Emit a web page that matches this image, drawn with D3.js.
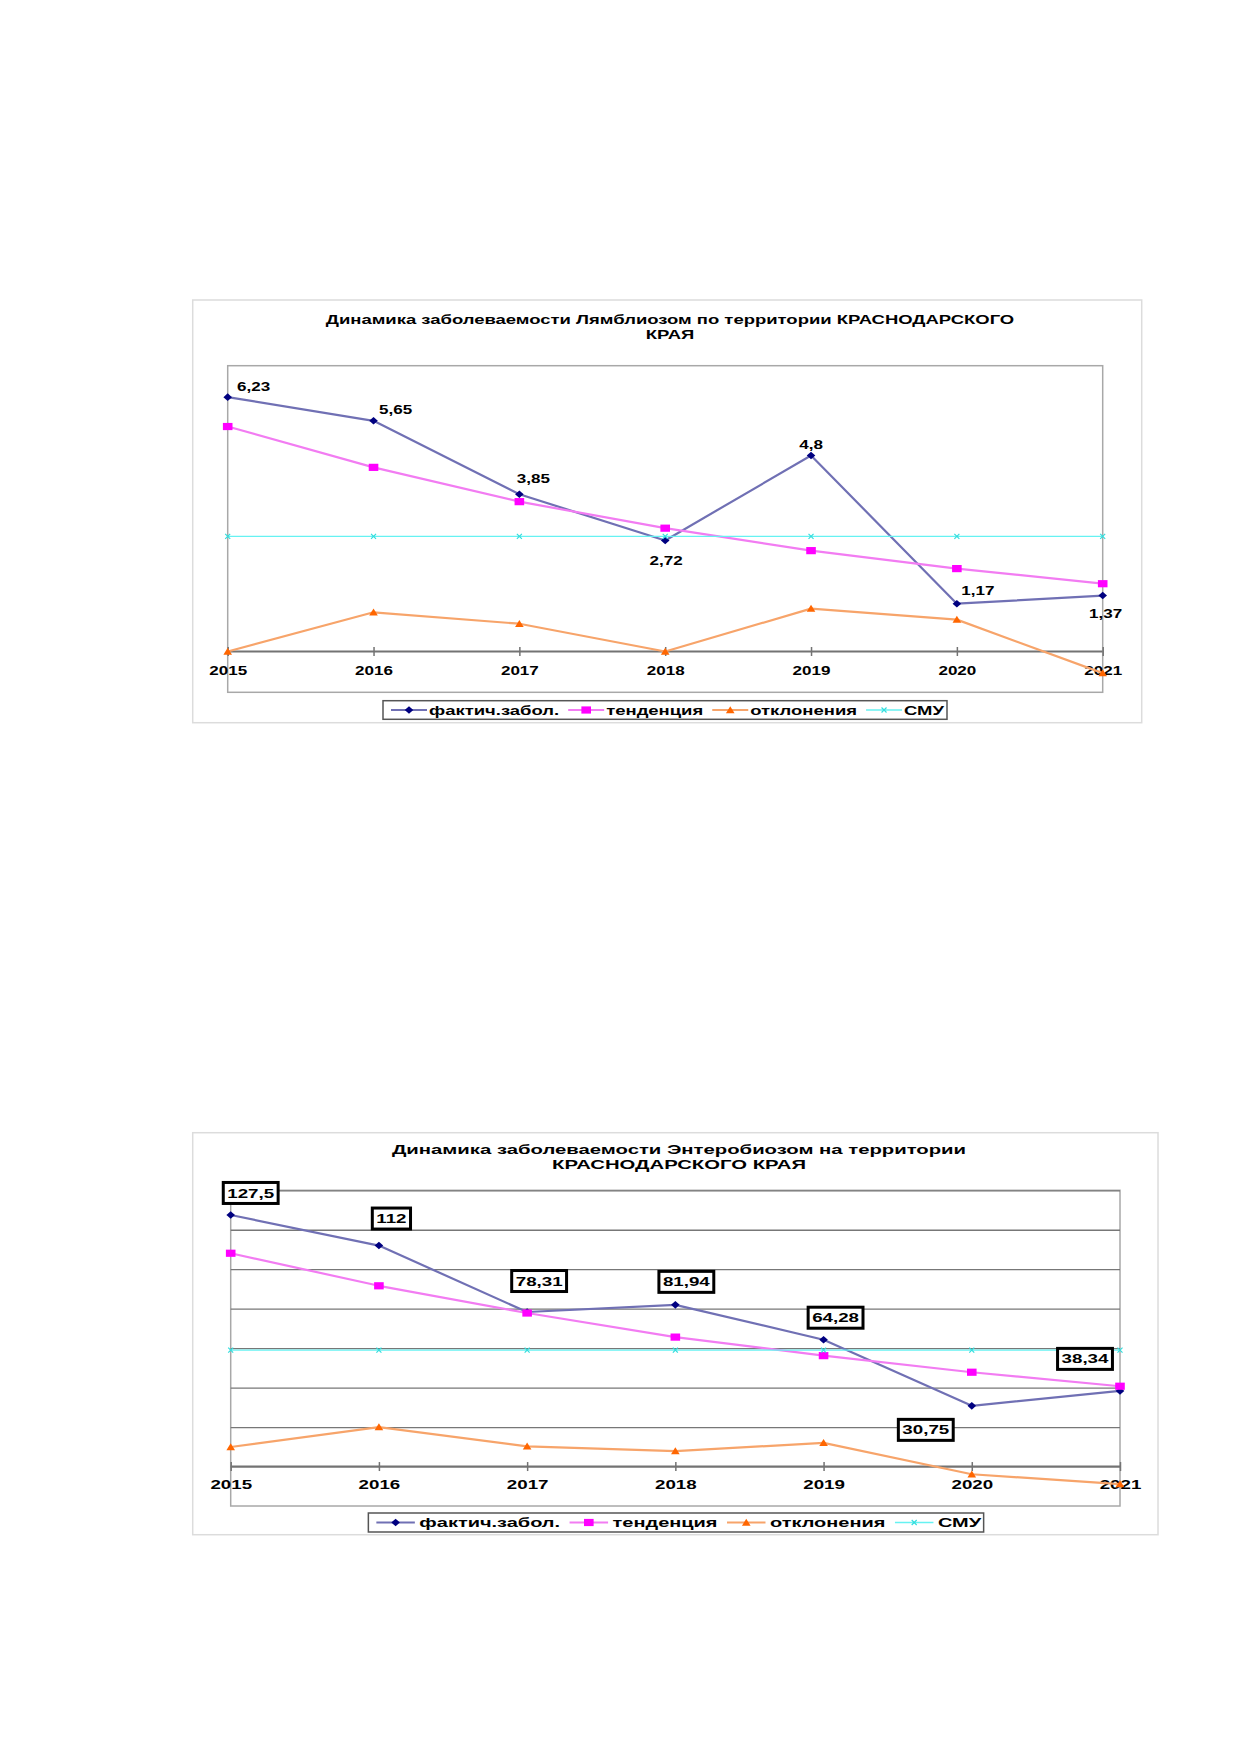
<!DOCTYPE html>
<html>
<head>
<meta charset="utf-8">
<script src="https://cdn.jsdelivr.net/npm/d3@7"></script>
<style>
html, body { margin: 0; padding: 0; background: #fff; }
svg text { font-family: "Liberation Sans", Arial, sans-serif; font-weight: bold; fill: #000; }
</style>
</head>
<body>
<svg id="page" width="1239" height="1752"></svg>
<script>
// Category axis
const years = ['2015', '2016', '2017', '2018', '2019', '2020', '2021'];
const legendNames = ['фактич.забол.', 'тенденция', 'отклонения', 'СМУ'];

// Лямблиоз
const lambActual = [6.23, 5.65, 3.85, 2.72, 4.8, 1.17, 1.37];
const lambTrend = [5.51, 4.51, 3.67, 3.02, 2.47, 2.03, 1.66];
const lambDeviation = [0, 0.96, 0.68, 0, 1.05, 0.78, -0.53];
const lambSmu = [2.82, 2.82, 2.82, 2.82, 2.82, 2.82, 2.82];
const lambGrid = [];

// Энтеробиоз
const enterActual = [127.5, 112, 78.31, 81.94, 64.28, 30.75, 38.34];
const enterTrend = [108.1, 91.6, 77.8, 65.6, 56.2, 47.8, 40.7];
const enterDeviation = [9.9, 20.0, 10.2, 7.8, 12.0, -3.9, -8.9];
const enterSmu = [59, 59, 59, 59, 59, 59, 59];
const enterGrid = [20, 40, 60, 80, 100, 120, 140];

// Series look, in Excel order
const seriesStyle = [
    { line: '#7070b4', fill: '#000080', shape: 'diamond', width: 2.2 },
    { line: '#f27cf2', fill: '#ff00ff', shape: 'square', width: 2.2 },
    { line: '#f7a46a', fill: '#ff6600', shape: 'triangle', width: 2.2 },
    { line: '#66f2f2', fill: '#33dddd', shape: 'cross', width: 1.4 }
];

const shapes = {
    diamond: 'M0,-3.8L4.3,0L0,3.8L-4.3,0Z',
    square: 'M-4.8,-3.6H4.8V3.6H-4.8Z',
    triangle: 'M0,-3.8L4.3,3.2L-4.3,3.2Z',
    cross: 'M-2.5,-2.5L2.5,2.5M-2.5,2.5L2.5,-2.5'
};

const commaFormat = d => String(d).replace('.', ',');

const page = d3.select('#page');

// The original bitmap is stretched sideways; widen text the same way
const stretch = (sel, k) => sel.each(function () {
    const w = this.getComputedTextLength();
    d3.select(this).attr('textLength', w * k).attr('lengthAdjust', 'spacingAndGlyphs');
});

const drawChart = (c) => {
    const g = page.append('g');

    // Chart area frame
    g.append('rect')
        .attr('x', c.frame.x).attr('y', c.frame.y)
        .attr('width', c.frame.w).attr('height', c.frame.h)
        .attr('fill', '#fff').attr('stroke', '#dcdcdc').attr('stroke-width', 1.5);

    const x = d3.scalePoint().domain(years).range([c.plot.left, c.plot.right]);
    const y = d3.scaleLinear().domain(c.yDomain).range([c.plot.bottom, c.plot.top]);

    // Plot area border
    g.append('rect')
        .attr('x', c.plot.left).attr('y', c.plot.top)
        .attr('width', c.plot.right - c.plot.left).attr('height', c.plot.bottom - c.plot.top)
        .attr('fill', 'none').attr('stroke', '#a8a8a8').attr('stroke-width', 1.5);

    // Gridlines
    const grid = g.append('g')
        .attr('transform', `translate(${c.plot.left},0)`)
        .call(d3.axisLeft(y).tickValues(c.grid).tickSize(-(c.plot.right - c.plot.left)).tickFormat(''));
    grid.select('.domain').remove();
    grid.selectAll('line').attr('stroke', '#777').attr('stroke-width', 1.3);

    // Category axis at zero, ticks crossing the line
    g.append('line')
        .attr('x1', c.plot.left).attr('x2', c.plot.right)
        .attr('y1', y(0)).attr('y2', y(0))
        .attr('stroke', '#737373').attr('stroke-width', 2.2);
    const xAxis = g.append('g')
        .attr('transform', `translate(0,${y(0) - 4.5})`)
        .call(d3.axisBottom(x).tickSize(9).tickPadding(0));
    xAxis.select('.domain').remove();
    xAxis.selectAll('line').attr('stroke', '#737373').attr('stroke-width', 1.5);
    xAxis.selectAll('text')
        .attr('y', c.tickBaseline - y(0) + 4.5).attr('dy', null)
        .attr('font-size', 13).attr('fill', '#000');
    stretch(xAxis.selectAll('text'), c.k);

    // Title
    g.selectAll('text.title')
        .data(c.title)
        .join('text')
        .attr('class', 'title')
        .attr('x', c.titleX)
        .attr('y', (d, i) => c.titleBaselines[i])
        .attr('text-anchor', 'middle')
        .attr('font-size', 13)
        .text(d => d)
        .call(stretch, c.titleK);

    // Series
    const line = d3.line().x((d, i) => x(years[i])).y(d => y(d));
    c.series.forEach((values, s) => {
        const st = seriesStyle[s];
        const sg = g.append('g');
        sg.append('path')
            .datum(values)
            .attr('d', line)
            .attr('fill', 'none')
            .attr('stroke', st.line)
            .attr('stroke-width', st.width)
            .attr('stroke-linejoin', 'round');
        sg.selectAll('path.mark')
            .data(values)
            .join('path')
            .attr('class', 'mark')
            .attr('transform', (d, i) => `translate(${x(years[i])},${y(d)})`)
            .attr('d', shapes[st.shape])
            .attr('fill', st.shape === 'cross' ? 'none' : st.fill)
            .attr('stroke', st.shape === 'cross' ? st.fill : 'none')
            .attr('stroke-width', 1.2);
    });

    // Value labels of the first series
    const labels = g.selectAll('g.label')
        .data(c.series[0])
        .join('g')
        .attr('class', 'label')
        .attr('transform', (d, i) =>
            `translate(${x(years[i]) + c.nudge[i][0]},${y(d) + c.nudge[i][1]})`);
    const labelText = labels.append('text')
        .attr('text-anchor', 'middle')
        .attr('y', 4.6)
        .attr('font-size', 13)
        .text(commaFormat)
        .call(stretch, c.k);
    if (c.boxed) {
        labelText.each(function () {
            const w = +d3.select(this).attr('textLength');
            d3.select(this.parentNode).insert('rect', 'text')
                .attr('x', -w / 2 - 4).attr('y', -10.5)
                .attr('width', w + 8).attr('height', 21)
                .attr('fill', '#fff').attr('stroke', '#000').attr('stroke-width', 3);
        });
    }

    // Legend
    const lg = g.append('g');
    const items = lg.selectAll('g.item')
        .data(legendNames)
        .join('g')
        .attr('class', 'item');
    items.append('text')
        .attr('font-size', 13)
        .attr('y', 4.5)
        .text(d => d)
        .call(stretch, c.legend.k);
    let cursor = c.legend.padLeft;
    items.each(function (d, i) {
        const st = seriesStyle[i];
        const it = d3.select(this);
        it.insert('line', 'text')
            .attr('x1', cursor).attr('x2', cursor + c.legend.lineLen)
            .attr('y1', 0).attr('y2', 0)
            .attr('stroke', st.line).attr('stroke-width', st.width);
        it.insert('path', 'text')
            .attr('transform', `translate(${cursor + c.legend.lineLen / 2},0)`)
            .attr('d', shapes[st.shape])
            .attr('fill', st.shape === 'cross' ? 'none' : st.fill)
            .attr('stroke', st.shape === 'cross' ? st.fill : 'none')
            .attr('stroke-width', 1.2);
        cursor += c.legend.lineLen + c.legend.gap;
        const txt = it.select('text').attr('x', cursor);
        cursor += +txt.attr('textLength') + c.legend.itemGap;
    });
    const legendW = cursor - c.legend.itemGap + c.legend.padRight;
    lg.insert('rect', 'g')
        .attr('x', 0).attr('y', -c.legend.h / 2)
        .attr('width', legendW).attr('height', c.legend.h)
        .attr('fill', '#fff').attr('stroke', '#555').attr('stroke-width', 1.5);
    lg.attr('transform', `translate(${c.legend.cx - legendW / 2},${c.legend.cy})`);
};

drawChart({
    frame: { x: 192.7, y: 300, w: 949, h: 422.7 },
    plot: { left: 227.7, right: 1102.7, top: 365.7, bottom: 692.3 },
    yDomain: [-1, 7],
    grid: lambGrid,
    title: ['Динамика заболеваемости Лямблиозом по территории КРАСНОДАРСКОГО', 'КРАЯ'],
    titleX: 670,
    titleBaselines: [323.6, 339.2],
    titleK: 1.42,
    tickBaseline: 674.7,
    k: 1.31,
    series: [lambActual, lambTrend, lambDeviation, lambSmu],
    boxed: false,
    nudge: [[26, -11], [22, -11.6], [14, -16], [1, 20], [0, -11], [21, -13.4], [3, 18]],
    legend: { cx: 665, cy: 710, h: 18.6, k: 1.42, padLeft: 8, padRight: 3, lineLen: 36, gap: 2, itemGap: 9 }
});

drawChart({
    frame: { x: 192.7, y: 1132.7, w: 965.3, h: 402 },
    plot: { left: 230.7, right: 1120, top: 1190.3, bottom: 1506 },
    yDomain: [-20, 140],
    grid: enterGrid,
    title: ['Динамика заболеваемости Энтеробиозом на территории', 'КРАСНОДАРСКОГО КРАЯ'],
    titleX: 679,
    titleBaselines: [1154, 1168.5],
    titleK: 1.56,
    tickBaseline: 1488.7,
    k: 1.44,
    series: [enterActual, enterTrend, enterDeviation, enterSmu],
    boxed: true,
    nudge: [[20, -22], [12.5, -27], [12, -31], [11, -23], [12, -22], [-46, 24], [-35, -32]],
    legend: { cx: 676, cy: 1522.5, h: 19, k: 1.535, padLeft: 8, padRight: 2.5, lineLen: 38.5, gap: 4.5, itemGap: 9.5 }
});
</script>
</body>
</html>
